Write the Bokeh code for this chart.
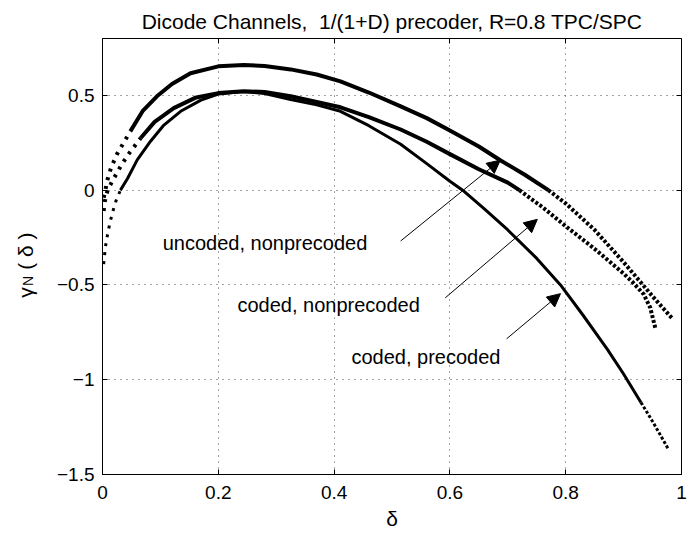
import numpy as np
from bokeh.plotting import figure
from bokeh.models import (Range1d, LinearAxis, FixedTicker, Label, Arrow, NormalHead,
                          ColumnDataSource, CustomJSTickFormatter)
from bokeh.embed import file_html
from bokeh.resources import INLINE
from bokeh.core.properties import value

# ---------------- data ----------------
top_d = [0.002, 0.005, 0.008, 0.015, 0.025, 0.048, 0.07, 0.094, 0.12, 0.152, 0.2, 0.244,
         0.28, 0.325, 0.37, 0.411, 0.46, 0.515, 0.56, 0.6, 0.65, 0.687, 0.73, 0.77, 0.8,
         0.85, 0.9, 0.95, 0.985]
top_g = [-0.04, 0.0, 0.05, 0.12, 0.19, 0.31, 0.42, 0.495, 0.56, 0.617, 0.653, 0.66,
         0.655, 0.637, 0.61, 0.574, 0.515, 0.442, 0.38, 0.315, 0.23, 0.158, 0.08, 0.0, -0.07,
         -0.21, -0.38, -0.56, -0.68]

mid_d = [0.002, 0.004, 0.007, 0.010, 0.014, 0.019, 0.025, 0.032, 0.045, 0.066, 0.09, 0.123,
         0.16, 0.2, 0.244, 0.28, 0.325, 0.37, 0.411, 0.46, 0.515, 0.56, 0.6, 0.65, 0.7, 0.72,
         0.76, 0.8, 0.85, 0.9, 0.917, 0.935, 0.946, 0.955]
mid_g = [-0.11, -0.06, -0.02, 0.01, 0.03, 0.06, 0.09, 0.13, 0.19, 0.275, 0.36, 0.433,
         0.487, 0.512, 0.522, 0.518, 0.495, 0.465, 0.437, 0.385, 0.32, 0.255, 0.19, 0.11, 0.04,
         0.0, -0.09, -0.19, -0.31, -0.44, -0.49, -0.55, -0.62, -0.73]

low_d = [0.002, 0.004, 0.006, 0.009, 0.013, 0.018, 0.024, 0.031, 0.043, 0.06, 0.083, 0.105,
         0.135, 0.17, 0.2, 0.244, 0.28, 0.325, 0.37, 0.411, 0.46, 0.515, 0.56, 0.6, 0.622,
         0.66, 0.7, 0.75, 0.791, 0.83, 0.872, 0.9, 0.93, 0.95, 0.965, 0.978]
low_g = [-0.39, -0.33, -0.28, -0.23, -0.17, -0.11, -0.05, 0.0, 0.06, 0.16, 0.258, 0.34,
         0.416, 0.475, 0.507, 0.52, 0.51, 0.478, 0.45, 0.416, 0.34, 0.242, 0.14, 0.047, 0.0,
         -0.10, -0.21, -0.36, -0.5, -0.66, -0.84, -0.97, -1.12, -1.22, -1.3, -1.37]

x_ticks = [0, 0.2, 0.4, 0.6, 0.8, 1]
x_tick_labels = ["0", "0.2", "0.4", "0.6", "0.8", "1"]
y_ticks = [-1.5, -1, -0.5, 0, 0.5]
y_tick_labels = ["\u22121.5", "\u22121", "\u22120.5", "0", "0.5"]

title_text = "Dicode Channels,\u00a0 1/(1+D) precoder, R=0.8 TPC/SPC"
x_label = "\u03b4"
y_label_main = "\u03b3\u00a0\u00a0\u00a0(\u00a0\u03b4\u00a0)"
y_label_sub = "N"

ann_text = ["uncoded, nonprecoded", "coded, nonprecoded", "coded, precoded"]
ann_x = [0.104, 0.233, 0.43]
ann_y = [-0.279, -0.605, -0.879]
arr_x0 = [0.515, 0.592, 0.698]
arr_y0 = [-0.268, -0.568, -0.784]
arr_x1 = [0.687, 0.751, 0.791]
arr_y1 = [0.158, -0.154, -0.546]

FONT = "Liberation Sans"

# ---------------- figure ----------------
p = figure(frame_width=579, frame_height=436, min_border_left=102, min_border_right=16,
           min_border_top=38, min_border_bottom=62, output_backend="svg",
           toolbar_location=None, x_range=Range1d(0, 1), y_range=Range1d(-1.5, 0.8),
           background_fill_color="white", border_fill_color="white")
p.outline_line_color = "black"
p.outline_line_alpha = 1.0
p.outline_line_width = 1

p.title.text = title_text
p.title.align = "center"
p.title.text_font = FONT
p.title.text_font_size = "21px"
p.title.text_font_style = "normal"
p.title.text_color = "black"
p.title.standoff = 12

xt = FixedTicker(ticks=x_ticks, minor_ticks=[])
yt = FixedTicker(ticks=y_ticks, minor_ticks=[])

for ax, tk, labs in ((p.xaxis[0], xt, x_tick_labels), (p.yaxis[0], yt, y_tick_labels)):
    ax.ticker = tk
    ax.major_label_overrides = {float(t): l for t, l in zip(tk.ticks, labs)}
    ax.major_tick_in = 5
    ax.major_tick_out = 0
    ax.minor_tick_line_color = None
    ax.axis_line_color = "black"
    ax.major_tick_line_color = "black"
    ax.major_label_text_font = FONT
    ax.major_label_text_font_size = "19px"
    ax.major_label_text_color = "black"
    ax.major_label_standoff = 8
p.xaxis[0].major_label_standoff = 11

p.xaxis[0].axis_label = x_label
p.xaxis[0].axis_label_text_font = FONT
p.xaxis[0].axis_label_text_font_size = "21px"
p.xaxis[0].axis_label_text_font_style = "normal"
p.xaxis[0].axis_label_text_color = "black"
p.xaxis[0].axis_label_standoff = 5

blank = CustomJSTickFormatter(code="return ''")
ax_r = LinearAxis(ticker=yt, formatter=blank, major_tick_in=5, major_tick_out=0,
                  minor_tick_line_color=None, axis_line_color=None, major_label_standoff=0,
                  major_tick_line_color="black")
ax_t = LinearAxis(ticker=xt, formatter=blank, major_tick_in=5, major_tick_out=0,
                  minor_tick_line_color=None, axis_line_color=None, major_label_standoff=0,
                  major_tick_line_color="black")
p.add_layout(ax_r, "right")
p.add_layout(ax_t, "above")

for g in (p.xgrid[0], p.ygrid[0]):
    g.grid_line_color = "#333333"
    g.grid_line_dash = "1 5"
    g.grid_line_width = 1
    g.grid_line_alpha = 0.9
p.xgrid[0].ticker = xt
p.ygrid[0].ticker = yt


def part(d, g, lo, hi):
    xs = [a for a in d if lo <= a <= hi]
    ys = [b for a, b in zip(d, g) if lo <= a <= hi]
    return xs, ys


curves = [
    (top_d, top_g, 0.048, 0.77, 4.0),
    (mid_d, mid_g, 0.066, 0.72, 4.0),
    (low_d, low_g, 0.031, 0.93, 3.0),
]
for d, g, t1, t2, w in curves:
    xs, ys = part(d, g, 0, t1)
    p.line(xs, ys, line_color="black", line_width=w, line_dash="3 6")
    xs, ys = part(d, g, t1, t2)
    p.line(xs, ys, line_color="black", line_width=w, line_join="round")
    xs, ys = part(d, g, t2, 1)
    p.line(xs, ys, line_color="black", line_width=w, line_dash="3 2")

# annotations
src = ColumnDataSource(dict(x=ann_x, y=ann_y, t=ann_text))
p.text(x="x", y="y", text="t", source=src, text_font=value(FONT),
       text_font_size=value("20px"), text_align="left", text_baseline="middle",
       text_color="black")

asrc = ColumnDataSource(dict(x0=arr_x0, y0=arr_y0, x1=arr_x1, y1=arr_y1))
p.add_layout(Arrow(end=NormalHead(size=13, fill_color="black", line_color="black"),
                   x_start="x0", y_start="y0", x_end="x1", y_end="y1", source=asrc,
                   line_color="black", line_width=1))

# y label: gamma_N ( delta ), rotated, placed in the left side panel (not clipped)
p.add_layout(Label(x=-0.133, y=-0.568, text=y_label_main, angle=np.pi / 2,
                   text_align="left", text_baseline="middle", text_font=FONT,
                   text_font_size="21px", text_color="black"), "left")
p.add_layout(Label(x=-0.128, y=-0.505, text=y_label_sub, angle=np.pi / 2,
                   text_align="left", text_baseline="middle", text_font=FONT,
                   text_font_size="14px", text_color="black"), "left")

open("out.html", "w").write(file_html(p, INLINE))
